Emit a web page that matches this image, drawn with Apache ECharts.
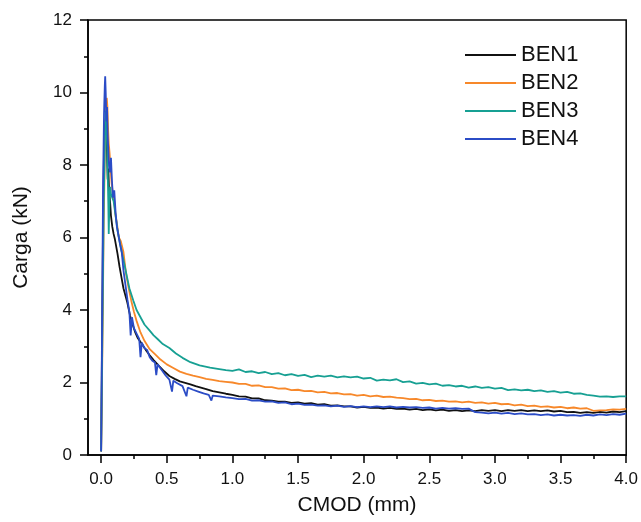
<!DOCTYPE html>
<html>
<head>
<meta charset="utf-8">
<script src="https://cdn.jsdelivr.net/npm/echarts@6/dist/echarts.min.js"></script>
<style>
html,body{margin:0;padding:0;background:#fff;}
#chart{width:641px;height:522px;}
</style>
</head>
<body>
<div id="chart"></div>
<script>
const seriesNames = ['BEN1', 'BEN2', 'BEN3', 'BEN4'];
const seriesColors = ['#111111', '#F7882A', '#17A093', '#2B4CC6'];
const xMajorTicks = [0, 0.5, 1.0, 1.5, 2.0, 2.5, 3.0, 3.5, 4.0];
const xMinorTicks = [0.25, 0.75, 1.25, 1.75, 2.25, 2.75, 3.25, 3.75];

// early part (peak and decay), [CMOD mm, load kN]
const ben1Early = [[0,0.1],[0.008,3.5],[0.015,6.5],[0.022,8.4],[0.03,9.1],[0.036,9.3],[0.04,8.9],[0.045,8.3],[0.05,7.6],[0.055,7.9],[0.06,7.3],[0.068,7.0],[0.075,6.6],[0.085,6.3],[0.095,6.1],[0.105,5.95],[0.115,5.75],[0.125,5.55],[0.14,5.2],[0.155,4.9],[0.17,4.6],[0.185,4.4],[0.2,4.2],[0.22,3.85],[0.24,3.6],[0.26,3.38],[0.28,3.22],[0.31,3.07],[0.34,2.9],[0.37,2.75],[0.4,2.62],[0.44,2.46],[0.48,2.31],[0.52,2.18],[0.56,2.1],[0.6,2.03],[0.64,1.99],[0.68,1.95],[0.72,1.9],[0.76,1.86],[0.8,1.82],[0.85,1.76],[0.9,1.73],[0.95,1.69]];
const ben2Early = [[0,0.1],[0.01,3.0],[0.02,6.5],[0.03,8.6],[0.038,9.5],[0.043,9.85],[0.048,9.6],[0.053,9.0],[0.058,8.6],[0.065,8.3],[0.072,7.9],[0.08,7.5],[0.09,7.2],[0.1,7.0],[0.11,6.6],[0.12,6.4],[0.135,6.0],[0.15,5.9],[0.17,5.6],[0.19,5.0],[0.21,4.6],[0.23,4.25],[0.25,3.95],[0.27,3.7],[0.3,3.38],[0.33,3.15],[0.37,2.92],[0.41,2.78],[0.45,2.64],[0.5,2.5],[0.55,2.4],[0.6,2.3],[0.65,2.24],[0.7,2.19],[0.75,2.15],[0.8,2.1],[0.85,2.07],[0.9,2.04],[0.95,2.02]];
const ben3Early = [[0,0.1],[0.01,3.5],[0.02,7.0],[0.03,8.9],[0.036,9.5],[0.041,9.2],[0.046,8.5],[0.05,7.8],[0.055,6.9],[0.058,6.1],[0.062,6.8],[0.068,7.4],[0.075,7.2],[0.085,7.1],[0.095,7.0],[0.11,6.6],[0.125,6.2],[0.14,5.9],[0.157,5.6],[0.175,5.3],[0.195,4.95],[0.215,4.6],[0.245,4.26],[0.27,4.0],[0.3,3.8],[0.33,3.6],[0.37,3.43],[0.4,3.3],[0.43,3.2],[0.47,3.06],[0.52,2.95],[0.57,2.8],[0.62,2.68],[0.68,2.56],[0.75,2.47],[0.83,2.41],[0.9,2.37],[0.95,2.34]];
const ben4Early = [[0,0.1],[0.008,4.0],[0.015,7.5],[0.022,9.4],[0.028,10.2],[0.031,10.45],[0.035,10.0],[0.04,9.2],[0.045,9.6],[0.05,8.8],[0.055,8.4],[0.06,8.0],[0.068,7.8],[0.075,8.2],[0.082,7.6],[0.09,7.1],[0.1,7.3],[0.11,6.7],[0.12,6.3],[0.13,6.1],[0.145,5.8],[0.157,5.6],[0.17,5.1],[0.185,4.7],[0.2,4.3],[0.215,3.95],[0.225,3.3],[0.235,3.8],[0.25,3.5],[0.27,3.35],[0.29,3.2],[0.3,2.7],[0.31,3.1],[0.33,2.95],[0.35,2.9],[0.37,2.7],[0.39,2.6],[0.41,2.55],[0.42,2.2],[0.43,2.5],[0.46,2.35],[0.49,2.2],[0.52,2.08],[0.54,1.75],[0.55,2.05],[0.58,1.98],[0.62,1.9],[0.65,1.62],[0.66,1.86],[0.7,1.8],[0.74,1.75],[0.78,1.7],[0.82,1.66],[0.84,1.5],[0.85,1.64],[0.9,1.62],[0.95,1.59]];

// tail part, shared CMOD positions
const tailX = [1.00,1.05,1.10,1.15,1.20,1.25,1.30,1.35,1.40,1.45,1.50,1.55,1.60,1.65,1.70,1.75,1.80,1.85,1.90,1.95,2.00,2.05,2.10,2.15,2.20,2.25,2.30,2.35,2.40,2.45,2.50,2.55,2.60,2.65,2.70,2.75,2.80,2.85,2.90,2.95,3.00,3.05,3.10,3.15,3.20,3.25,3.30,3.35,3.40,3.45,3.50,3.55,3.60,3.65,3.70,3.75,3.80,3.85,3.90,3.95,4.00];
const ben1Tail = [1.66,1.62,1.61,1.56,1.56,1.51,1.50,1.47,1.47,1.44,1.45,1.42,1.43,1.39,1.40,1.36,1.37,1.34,1.34,1.31,1.33,1.30,1.31,1.28,1.30,1.27,1.28,1.25,1.27,1.24,1.26,1.23,1.25,1.22,1.24,1.21,1.23,1.21,1.24,1.22,1.24,1.21,1.24,1.22,1.24,1.21,1.23,1.21,1.23,1.20,1.22,1.18,1.19,1.16,1.18,1.16,1.19,1.17,1.20,1.18,1.21];
const ben2Tail = [2.00,1.96,1.96,1.91,1.92,1.87,1.87,1.83,1.84,1.79,1.80,1.76,1.77,1.73,1.74,1.70,1.71,1.67,1.68,1.64,1.66,1.62,1.64,1.60,1.61,1.58,1.57,1.54,1.55,1.51,1.52,1.49,1.50,1.47,1.48,1.45,1.47,1.44,1.45,1.42,1.44,1.40,1.41,1.37,1.39,1.35,1.36,1.33,1.34,1.31,1.33,1.29,1.31,1.28,1.29,1.22,1.23,1.24,1.26,1.25,1.27];
const ben3Tail = [2.32,2.36,2.29,2.31,2.26,2.29,2.23,2.26,2.20,2.23,2.18,2.21,2.15,2.19,2.16,2.19,2.14,2.17,2.14,2.16,2.11,2.13,2.05,2.08,2.06,2.09,2.01,2.03,1.97,1.99,1.95,1.97,1.91,1.93,1.89,1.91,1.86,1.89,1.85,1.87,1.83,1.85,1.79,1.81,1.78,1.80,1.76,1.78,1.74,1.76,1.72,1.74,1.69,1.70,1.66,1.64,1.61,1.62,1.60,1.62,1.62];
const ben4Tail = [1.57,1.54,1.55,1.50,1.51,1.47,1.48,1.44,1.45,1.40,1.42,1.38,1.39,1.36,1.37,1.34,1.36,1.33,1.35,1.32,1.34,1.32,1.34,1.32,1.34,1.31,1.33,1.31,1.32,1.30,1.31,1.28,1.30,1.28,1.29,1.27,1.28,1.18,1.17,1.15,1.17,1.14,1.16,1.13,1.15,1.12,1.13,1.10,1.12,1.09,1.11,1.09,1.10,1.08,1.11,1.09,1.12,1.10,1.13,1.11,1.14];

const earlyParts = [ben1Early, ben2Early, ben3Early, ben4Early];
const tailParts = [ben1Tail, ben2Tail, ben3Tail, ben4Tail];

const FONT = '"Liberation Sans", Arial, sans-serif';
const chart = echarts.init(document.getElementById('chart'), null, {renderer: 'canvas'});

const series = seriesNames.map((name, i) => ({
  name: name,
  type: 'line',
  xAxisIndex: 0,
  yAxisIndex: 0,
  symbol: 'none',
  showSymbol: false,
  smooth: false,
  lineStyle: {width: 1.8, color: seriesColors[i]},
  itemStyle: {color: seriesColors[i]},
  data: earlyParts[i].concat(tailX.map((x, k) => [x, tailParts[i][k]]))
}));

chart.setOption({
  animation: false,
  backgroundColor: '#ffffff',
  textStyle: {fontFamily: FONT},
  grid: {left: 88, top: 20, right: 14, bottom: 67, show: true, borderColor: '#000', borderWidth: 1.5, backgroundColor: 'transparent'},
  legend: {
    orient: 'vertical',
    left: 465,
    top: 44,
    padding: 0,
    icon: 'rect',
    itemWidth: 51,
    itemHeight: 2,
    itemGap: 6,
    data: seriesNames,
    textStyle: {fontFamily: FONT, fontSize: 22, color: '#111', lineHeight: 21}
  },
  xAxis: [{
    type: 'value', min: -0.1, max: 4.0,
    name: 'CMOD (mm)', nameLocation: 'middle', nameGap: 40,
    nameTextStyle: {fontFamily: FONT, fontSize: 21, color: '#111'},
    axisLine: {show: true, onZero: false, lineStyle: {color: '#000', width: 1.5}},
    axisTick: {show: true, length: 8, inside: false, customValues: xMajorTicks, lineStyle: {color: '#000', width: 1.5}},
    axisLabel: {show: true, margin: 16, customValues: xMajorTicks, fontFamily: FONT, fontSize: 17, color: '#111', formatter: v => v.toFixed(1)},
    splitLine: {show: false}
  }, {
    type: 'value', min: -0.1, max: 4.0, position: 'bottom',
    axisLine: {show: false, onZero: false},
    axisTick: {show: true, length: 4, inside: false, customValues: xMinorTicks, lineStyle: {color: '#000', width: 1.5}},
    axisLabel: {show: false},
    splitLine: {show: false}
  }],
  yAxis: [{
    type: 'value', min: 0, max: 12, interval: 2,
    name: 'Carga (kN)', nameLocation: 'middle', nameGap: 56,
    nameTextStyle: {fontFamily: FONT, fontSize: 21, color: '#111'},
    axisLine: {show: true, onZero: false, lineStyle: {color: '#000', width: 1.5}},
    axisTick: {show: true, length: 8, inside: false, lineStyle: {color: '#000', width: 1.5}},
    minorTick: {show: true, splitNumber: 2, length: 4, lineStyle: {color: '#000', width: 1.5}},
    axisLabel: {margin: 16, fontFamily: FONT, fontSize: 17, color: '#111'},
    splitLine: {show: false},
    minorSplitLine: {show: false}
  }],
  series: series
});
</script>
</body>
</html>
